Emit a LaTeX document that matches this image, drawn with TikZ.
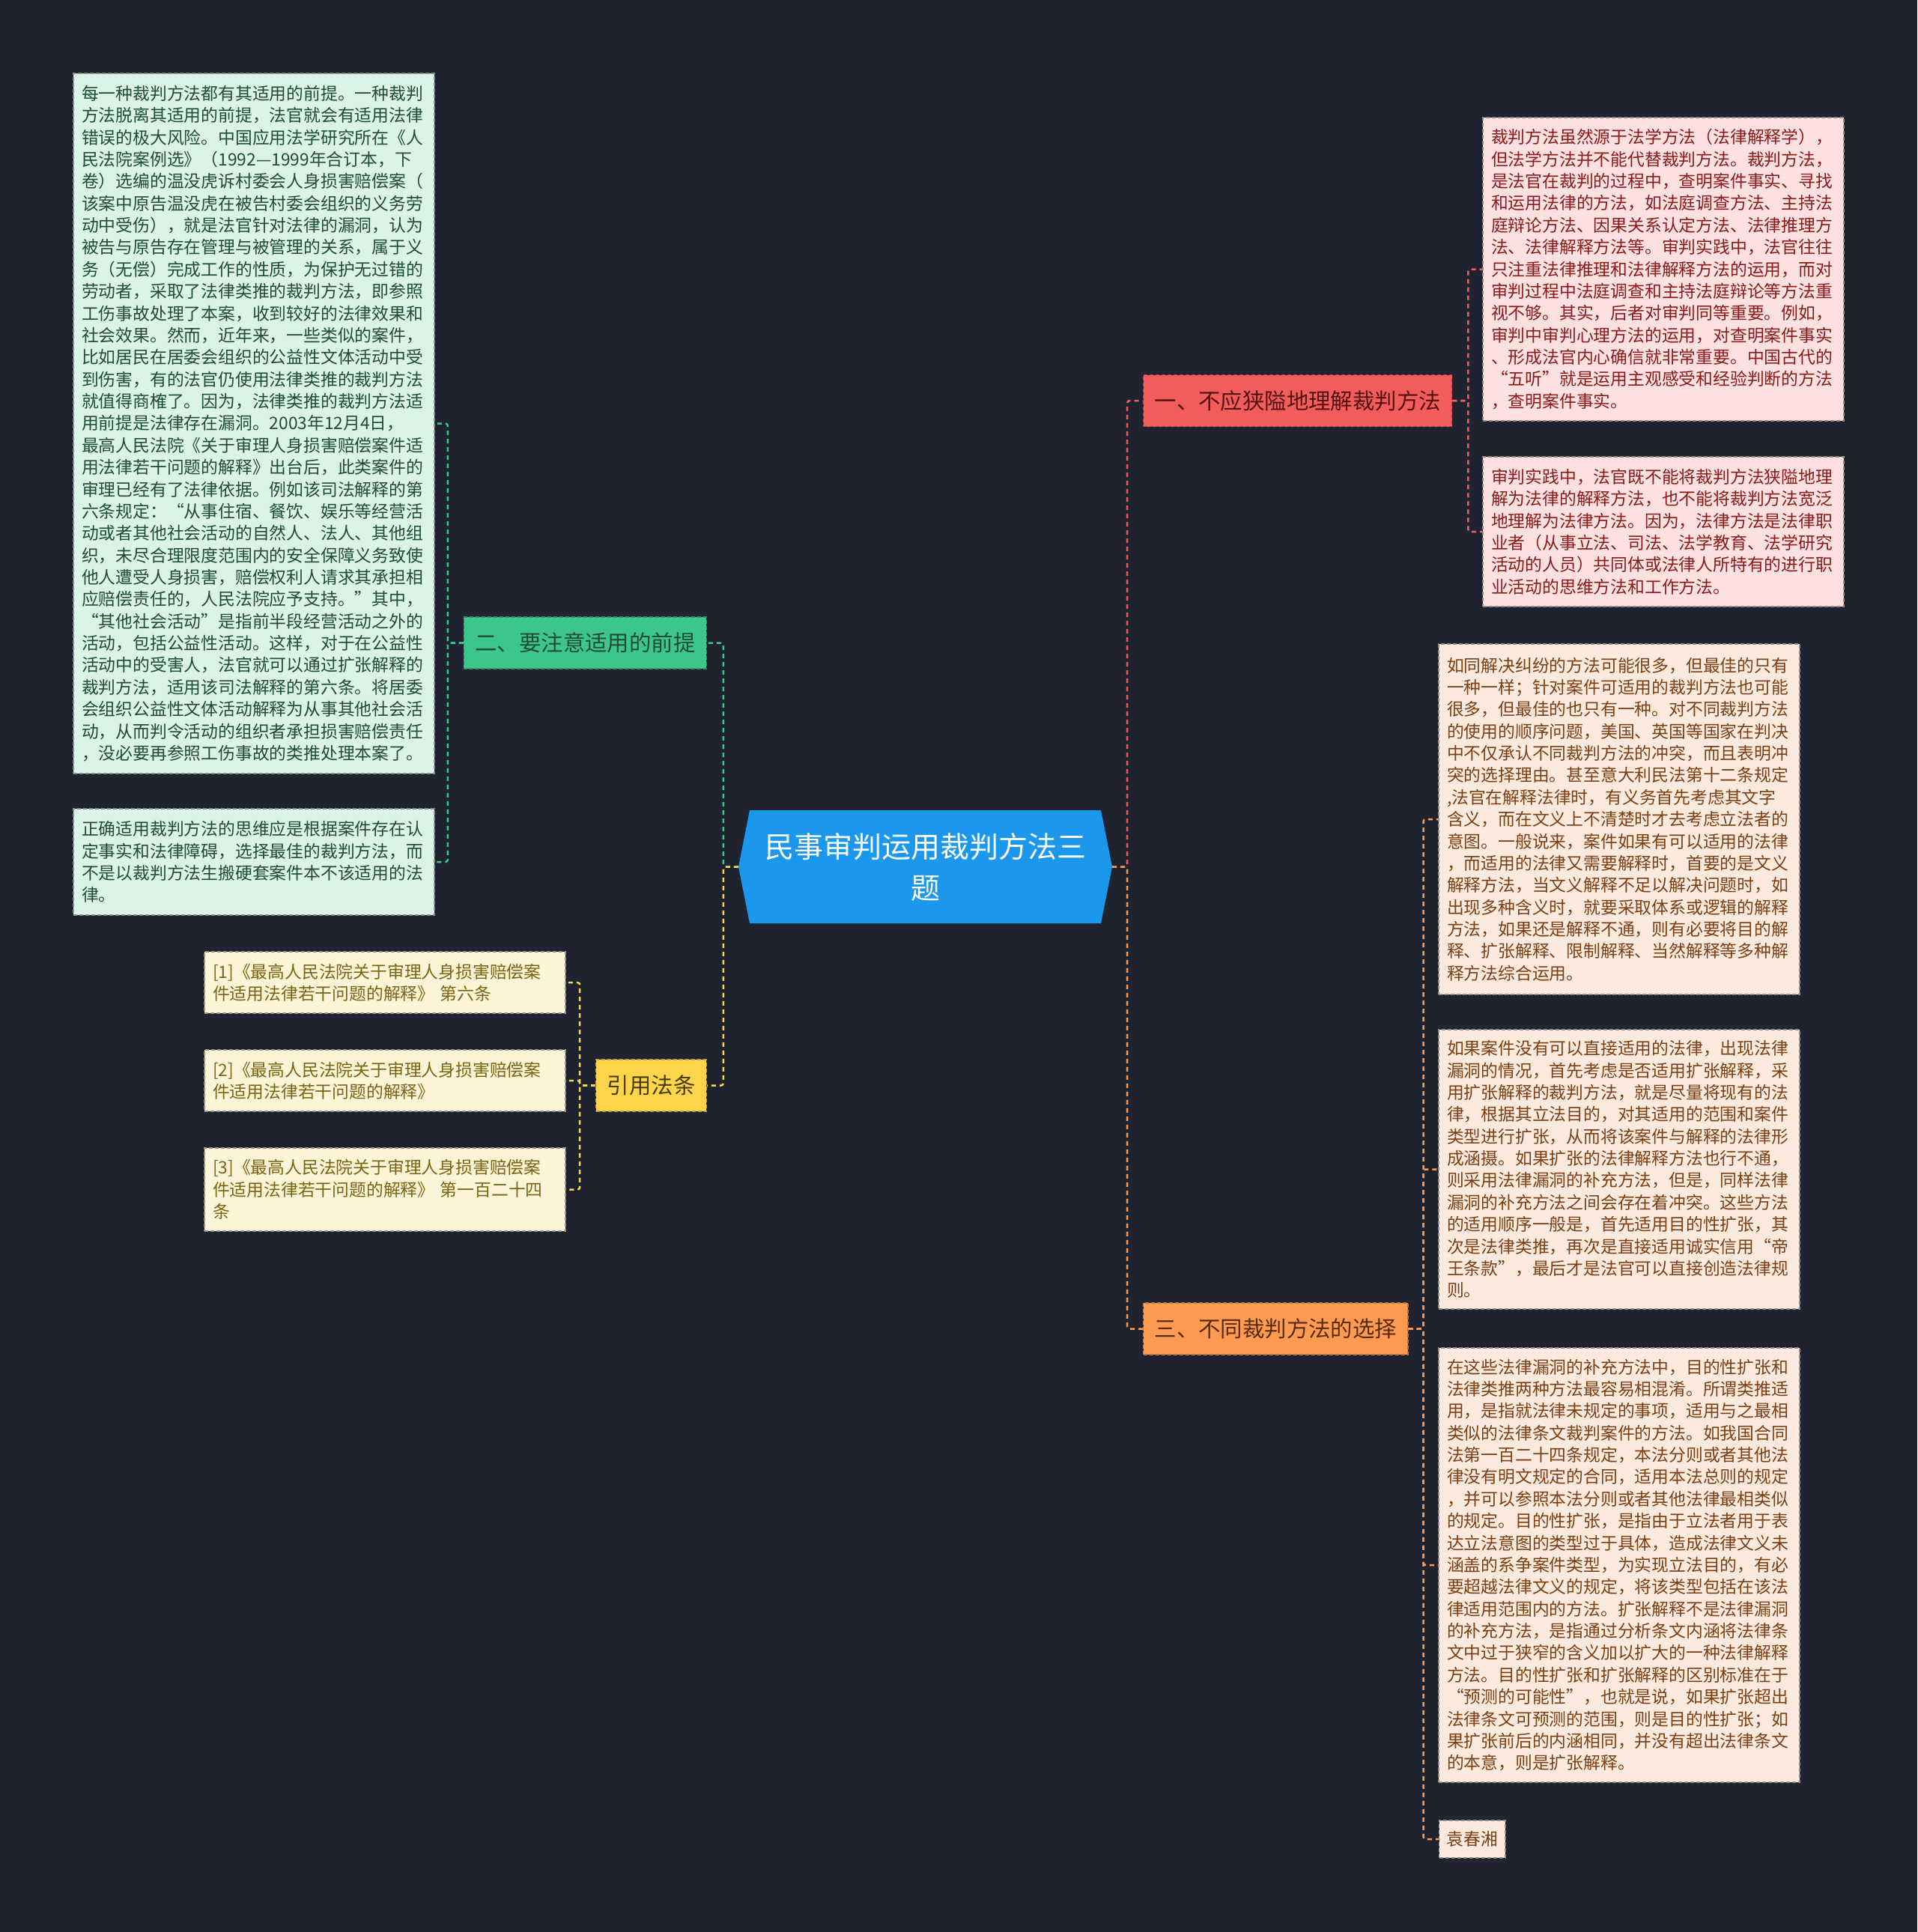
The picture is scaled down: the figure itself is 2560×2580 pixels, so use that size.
\documentclass[tikz,border=0pt]{standalone}
\usepackage{fontspec}
\setmainfont{Noto Sans CJK SC}
\usetikzlibrary{shapes.symbols}

\definecolor{bgcol}{HTML}{1F2330}
\definecolor{hubblue}{HTML}{1C97EE}
\definecolor{redtopic}{HTML}{F25C5C}
\definecolor{greentopic}{HTML}{3DC68A}
\definecolor{yellowtopic}{HTML}{FDD54A}
\definecolor{orangetopic}{HTML}{FE9A52}
\definecolor{greennote}{HTML}{DCF3E8}
\definecolor{yellownote}{HTML}{FDF5D8}
\definecolor{rednote}{HTML}{FDE0E0}
\definecolor{orangenote}{HTML}{FDEADF}
\definecolor{greentext}{HTML}{1F4D33}
\definecolor{yellowtext}{HTML}{7A6414}
\definecolor{redtext}{HTML}{8B1A1A}
\definecolor{orangetext}{HTML}{7B3F12}

\begin{document}
\begin{tikzpicture}[
    x=1pt, y=-1pt,
    hub/.style={shape=signal, signal to=west and east, signal pointer angle=157.5, fill=hubblue, text=white, minimum width=499pt, minimum height=151pt, inner sep=0pt, align=center, font=\fontsize{39}{55}\selectfont},
    topic/.style={fill=#1, draw=#1!75!black, dash pattern=on 5pt off 3pt, line width=1.2pt, minimum height=69pt, inner xsep=15pt, font=\fontsize{29.4}{34}\selectfont},
    note/.style={fill=#1, draw=#1!60!black, dash pattern=on 5pt off 3pt, line width=1.2pt, text width=460pt, inner xsep=11pt, inner ysep=10pt, align=left, font=\fontsize{22.8}{29.37}\selectfont},
    conn/.style={draw=#1, dash pattern=on 6pt off 5pt, line width=2.5pt, rounded corners=3pt},
]

\fill[bgcol] (0,0) rectangle (2560,2580);

% centre
\node[hub] (hub) at (1235.5,1157.5) {民事审判运用裁判方法三\\题};

% main topics
\node[topic=redtopic, text=redtext!60!black, anchor=west] (t1) at (1526,535) {一、不应狭隘地理解裁判方法};
\node[topic=greentopic, text=greentext, anchor=east] (t2) at (944,858.5) {二、要注意适用的前提};
\node[topic=yellowtopic, text=yellowtext!60!black, anchor=east] (t3) at (944,1449.5) {引用法条};
\node[topic=orangetopic, text=orangetext!70!black, anchor=west] (t4) at (1526,1774.5) {三、不同裁判方法的选择};

% notes of topic one
\node[note=rednote, text=redtext, minimum height=405pt] (r1) at (2221,359.5) {裁判方法虽然源于法学方法（法律解释学），\\
但法学方法并不能代替裁判方法。裁判方法，\\
是法官在裁判的过程中，查明案件事实、寻找\\
和运用法律的方法，如法庭调查方法、主持法\\
庭辩论方法、因果关系认定方法、法律推理方\\
法、法律解释方法等。审判实践中，法官往往\\
只注重法律推理和法律解释方法的运用，而对\\
审判过程中法庭调查和主持法庭辩论等方法重\\
视不够。其实，后者对审判同等重要。例如，\\
审判中审判心理方法的运用，对查明案件事实\\
、形成法官内心确信就非常重要。中国古代的\\
“五听”就是运用主观感受和经验判断的方法\\
，查明案件事实。};
\node[note=rednote, text=redtext, minimum height=200pt] (r2) at (2221,710) {审判实践中，法官既不能将裁判方法狭隘地理\\
解为法律的解释方法，也不能将裁判方法宽泛\\
地理解为法律方法。因为，法律方法是法律职\\
业者（从事立法、司法、法学教育、法学研究\\
活动的人员）共同体或法律人所特有的进行职\\
业活动的思维方法和工作方法。};

% notes of topic two
\node[note=greennote, text=greentext, minimum height=935pt] (g1) at (339,565.5) {每一种裁判方法都有其适用的前提。一种裁判\\
方法脱离其适用的前提，法官就会有适用法律\\
错误的极大风险。中国应用法学研究所在《人\\
民法院案例选》（1992—1999年合订本，下\\
卷）选编的温没虎诉村委会人身损害赔偿案（\\
该案中原告温没虎在被告村委会组织的义务劳\\
动中受伤），就是法官针对法律的漏洞，认为\\
被告与原告存在管理与被管理的关系，属于义\\
务（无偿）完成工作的性质，为保护无过错的\\
劳动者，采取了法律类推的裁判方法，即参照\\
工伤事故处理了本案，收到较好的法律效果和\\
社会效果。然而，近年来，一些类似的案件，\\
比如居民在居委会组织的公益性文体活动中受\\
到伤害，有的法官仍使用法律类推的裁判方法\\
就值得商榷了。因为，法律类推的裁判方法适\\
用前提是法律存在漏洞。2003年12月4日，\\
最高人民法院《关于审理人身损害赔偿案件适\\
用法律若干问题的解释》出台后，此类案件的\\
审理已经有了法律依据。例如该司法解释的第\\
六条规定：“从事住宿、餐饮、娱乐等经营活\\
动或者其他社会活动的自然人、法人、其他组\\
织，未尽合理限度范围内的安全保障义务致使\\
他人遭受人身损害，赔偿权利人请求其承担相\\
应赔偿责任的，人民法院应予支持。”其中，\\
“其他社会活动”是指前半段经营活动之外的\\
活动，包括公益性活动。这样，对于在公益性\\
活动中的受害人，法官就可以通过扩张解释的\\
裁判方法，适用该司法解释的第六条。将居委\\
会组织公益性文体活动解释为从事其他社会活\\
动，从而判令活动的组织者承担损害赔偿责任\\
，没必要再参照工伤事故的类推处理本案了。};
\node[note=greennote, text=greentext, minimum height=142pt] (g2) at (339,1151) {正确适用裁判方法的思维应是根据案件存在认\\
定事实和法律障碍，选择最佳的裁判方法，而\\
不是以裁判方法生搬硬套案件本不该适用的法\\
律。};

% cited articles
\node[note=yellownote, text=yellowtext, minimum height=82pt] (y1) at (514,1312) {[1]《最高人民法院关于审理人身损害赔偿案\\
件适用法律若干问题的解释》 第六条};
\node[note=yellownote, text=yellowtext, minimum height=82pt] (y2) at (514,1443) {[2]《最高人民法院关于审理人身损害赔偿案\\
件适用法律若干问题的解释》};
\node[note=yellownote, text=yellowtext, minimum height=111pt] (y3) at (514,1588.5) {[3]《最高人民法院关于审理人身损害赔偿案\\
件适用法律若干问题的解释》 第一百二十四\\
条};

% notes of topic three
\node[note=orangenote, text=orangetext, minimum height=468pt] (o1) at (2162,1094) {如同解决纠纷的方法可能很多，但最佳的只有\\
一种一样；针对案件可适用的裁判方法也可能\\
很多，但最佳的也只有一种。对不同裁判方法\\
的使用的顺序问题，美国、英国等国家在判决\\
中不仅承认不同裁判方法的冲突，而且表明冲\\
突的选择理由。甚至意大利民法第十二条规定\\
,法官在解释法律时，有义务首先考虑其文字\\
含义，而在文义上不清楚时才去考虑立法者的\\
意图。一般说来，案件如果有可以适用的法律\\
，而适用的法律又需要解释时，首要的是文义\\
解释方法，当文义解释不足以解决问题时，如\\
出现多种含义时，就要采取体系或逻辑的解释\\
方法，如果还是解释不通，则有必要将目的解\\
释、扩张解释、限制解释、当然解释等多种解\\
释方法综合运用。};
\node[note=orangenote, text=orangetext, minimum height=373pt] (o2) at (2162,1561.5) {如果案件没有可以直接适用的法律，出现法律\\
漏洞的情况，首先考虑是否适用扩张解释，采\\
用扩张解释的裁判方法，就是尽量将现有的法\\
律，根据其立法目的，对其适用的范围和案件\\
类型进行扩张，从而将该案件与解释的法律形\\
成涵摄。如果扩张的法律解释方法也行不通，\\
则采用法律漏洞的补充方法，但是，同样法律\\
漏洞的补充方法之间会存在着冲突。这些方法\\
的适用顺序一般是，首先适用目的性扩张，其\\
次是法律类推，再次是直接适用诚实信用“帝\\
王条款”，最后才是法官可以直接创造法律规\\
则。};
\node[note=orangenote, text=orangetext, minimum height=580pt] (o3) at (2162,2090) {在这些法律漏洞的补充方法中，目的性扩张和\\
法律类推两种方法最容易相混淆。所谓类推适\\
用，是指就法律未规定的事项，适用与之最相\\
类似的法律条文裁判案件的方法。如我国合同\\
法第一百二十四条规定，本法分则或者其他法\\
律没有明文规定的合同，适用本法总则的规定\\
，并可以参照本法分则或者其他法律最相类似\\
的规定。目的性扩张，是指由于立法者用于表\\
达立法意图的类型过于具体，造成法律文义未\\
涵盖的系争案件类型，为实现立法目的，有必\\
要超越法律文义的规定，将该类型包括在该法\\
律适用范围内的方法。扩张解释不是法律漏洞\\
的补充方法，是指通过分析条文内涵将法律条\\
文中过于狭窄的含义加以扩大的一种法律解释\\
方法。目的性扩张和扩张解释的区别标准在于\\
“预测的可能性”，也就是说，如果扩张超出\\
法律条文可预测的范围，则是目的性扩张；如\\
果扩张前后的内涵相同，并没有超出法律条文\\
的本意，则是扩张解释。};
\node[note=orangenote, text=orangetext, text width=, inner xsep=10pt, minimum height=50pt, anchor=west] (o4) at (1921,2456) {袁春湘};

% connectors
\draw[conn=redtopic] (hub.east) -- ++(20,0) |- (t1.west);
\draw[conn=orangetopic] (hub.east) -- ++(20,0) |- (t4.west);
\draw[conn=greentopic] (hub.west) -- ++(-20,0) |- (t2.east);
\draw[conn=yellowtopic] (hub.west) -- ++(-20,0) |- (t3.east);

\foreach \n in {r1,r2}
  \draw[conn=redtopic] (t1.east) -- ++(21,0) |- (\n.west);
\foreach \n in {g1,g2}
  \draw[conn=greentopic] (t2.west) -- ++(-21,0) |- (\n.east);
\foreach \n in {y1,y2,y3}
  \draw[conn=yellowtopic] (t3.west) -- ++(-21,0) |- (\n.east);
\foreach \n in {o1,o2,o3,o4}
  \draw[conn=orangetopic] (t4.east) -- ++(20,0) |- (\n.west);

\end{tikzpicture}
\end{document}
